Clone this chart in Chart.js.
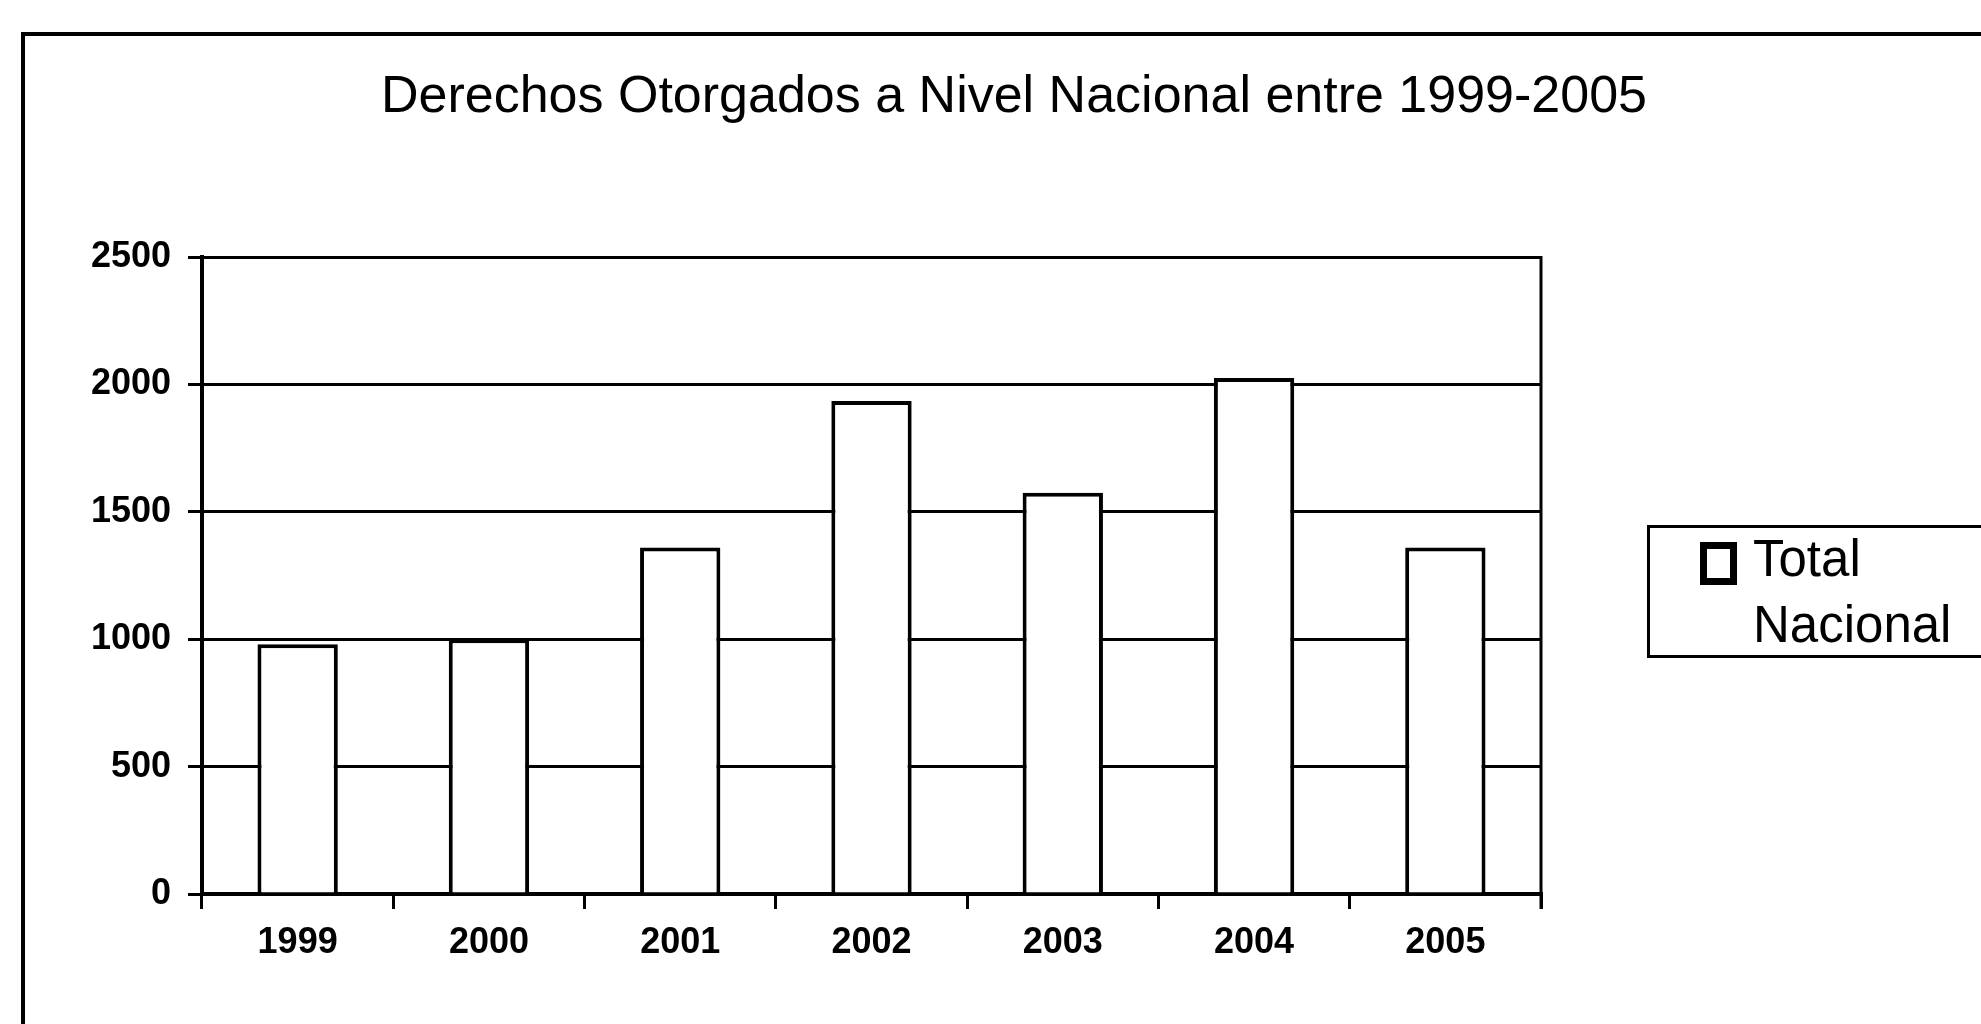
<!DOCTYPE html>
<html>
<head>
<meta charset="utf-8">
<script src="https://cdn.jsdelivr.net/npm/chart.js@4"></script>
<style>
    body { margin: 0; background: #fff; overflow: hidden; width: 1981px; height: 1024px; position: relative; font-family: "Liberation Sans", Arial, sans-serif; }
    #frame { position: absolute; left: 21px; top: 32px; width: 2100px; height: 1100px; border-left: 4px solid #000; border-top: 4px solid #000; }
    #title { position: absolute; top: 68px; left: 1014px; transform: translateX(-50%); white-space: nowrap; font-size: 52px; line-height: 52px; color: #000; }
    #legend { position: absolute; left: 1647px; top: 525px; width: 500px; height: 127px; border: 3px solid #000; }
    #legend .swatch { position: absolute; left: 50px; top: 14px; width: 23px; height: 29px; border: 7px solid #000; background: #fff; }
    #legend .label { position: absolute; left: 103px; top: -2px; width: 210px; font-size: 51px; line-height: 66px; color: #000; }
    canvas { position: absolute; left: 0; top: 0; }
</style>
</head>
<body>
<div id="frame"></div>
<div id="title"></div>
<canvas id="chart" width="1981" height="1024"></canvas>
<div id="legend"></div>
<script>
// Chart data
const chartTitle = 'Derechos Otorgados a Nivel Nacional entre 1999-2005';
const years = ['1999', '2000', '2001', '2002', '2003', '2004', '2005'];
const totalNacional = [980, 1000, 1360, 1935, 1575, 2025, 1360];
const seriesLabel = 'Total Nacional';
const yMin = 0;
const yMax = 2500;
const yStep = 500;

document.getElementById('title').textContent = chartTitle;

// Draws the right edge of the plot box (Excel style frame)
const plotFrame = {
    id: 'plotFrame',
    afterDatasetsDraw(chart) {
        const { ctx, chartArea } = chart;
        ctx.save();
        ctx.strokeStyle = '#000';
        ctx.lineWidth = 3;
        ctx.beginPath();
        ctx.moveTo(chartArea.right, chartArea.top - 1);
        ctx.lineTo(chartArea.right, chartArea.bottom + 15);
        ctx.stroke();
        ctx.restore();
    }
};

const ctx = document.getElementById('chart').getContext('2d');
const chart = new Chart(ctx, {
    type: 'bar',
    data: {
        labels: years,
        datasets: [{
            label: seriesLabel,
            data: totalNacional,
            backgroundColor: '#ffffff',
            borderColor: '#000000',
            borderWidth: 4,
            categoryPercentage: 1,
            barPercentage: 0.42
        }]
    },
    options: {
        responsive: false,
        animation: false,
        devicePixelRatio: 1,
        layout: { padding: { left: 0, right: 440, top: 257, bottom: 50 } },
        plugins: {
            legend: { display: false },
            title: { display: false },
            tooltip: { enabled: false }
        },
        scales: {
            x: {
                afterFit: scale => { scale.height = 80; },
                grid: { drawOnChartArea: false, color: '#000', lineWidth: 3, tickLength: 15 },
                border: { color: '#000', width: 4 },
                ticks: {
                    color: '#000',
                    padding: 12,
                    maxRotation: 0,
                    font: { family: '"Liberation Sans", Arial, sans-serif', size: 36, weight: 'bold' }
                }
            },
            y: {
                min: yMin,
                max: yMax,
                afterFit: scale => { scale.width = 202; },
                grid: { color: '#000', lineWidth: 3, tickLength: 14 },
                border: { color: '#000', width: 4 },
                ticks: {
                    stepSize: yStep,
                    color: '#000',
                    padding: 17,
                    callback: value => String(value), // no thousands separator, as in the original
                    font: { family: '"Liberation Sans", Arial, sans-serif', size: 36, weight: 'bold' }
                }
            }
        }
    },
    plugins: [plotFrame]
});

// Legend box built from the dataset so it matches the bars
const ds = chart.data.datasets[0];
const legend = document.getElementById('legend');
legend.innerHTML = `
    <div class="swatch" style="border-color: ${ds.borderColor}; background: ${ds.backgroundColor};"></div>
    <div class="label">${ds.label}</div>
`;
</script>
</body>
</html>
